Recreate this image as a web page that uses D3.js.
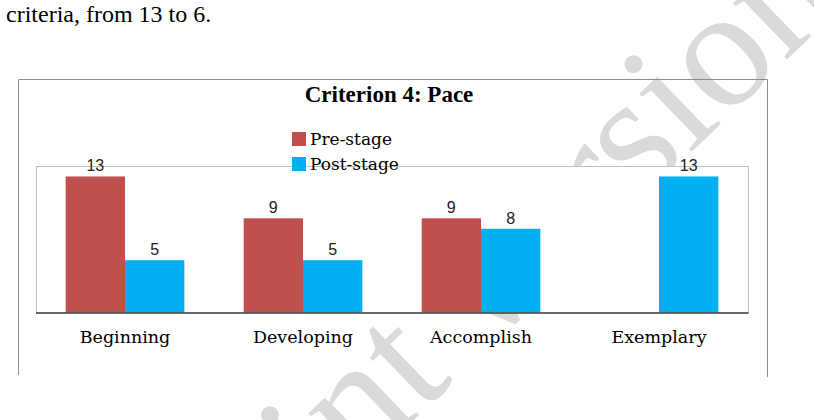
<!DOCTYPE html>
<html>
<head>
<meta charset="utf-8">
<script src="https://cdn.jsdelivr.net/npm/d3@7"></script>
<style>
  body { margin: 0; background: #fff; }
</style>
</head>
<body>
<div id="chart"></div>
<script>
// Chart data
const categories = ["Beginning", "Developing", "Accomplish", "Exemplary"];
const seriesNames = ["Pre-stage", "Post-stage"];
const preStage = [13, 9, 9, null];
const postStage = [5, 5, 8, 13];
const seriesColors = ["#c0504d", "#00b0f0"];

const width = 814, height = 420;
const plot = { left: 36, right: 748, top: 166, bottom: 312.5 };

const svg = d3.select("#chart").append("svg")
    .attr("width", width)
    .attr("height", height);

// Text from the page above the figure
svg.append("text")
    .attr("x", 6)
    .attr("y", 22)
    .attr("font-family", "Liberation Serif, Times New Roman, serif")
    .attr("font-size", 24)
    .attr("fill", "#000")
    .text("criteria, from 13 to 6.");

// Watermark behind the chart
svg.append("text")
    .attr("transform", "translate(426,354) rotate(-44)")
    .attr("text-anchor", "middle")
    .attr("dy", "0.23em")
    .attr("font-family", "Liberation Serif, Times New Roman, serif")
    .attr("font-size", 170)
    .attr("fill", "#d9d9d9")
    .text("Preprint version");

// Outer chart frame (left, top, right)
svg.append("path")
    .attr("d", "M18.5,375 V79.5 H767.5 V377")
    .attr("fill", "none")
    .attr("stroke", "#8c8c8c")
    .attr("stroke-width", 1);

// Scales
const x0 = d3.scaleBand()
    .domain(categories)
    .range([plot.left, plot.right])
    .paddingInner(1 / 3)
    .paddingOuter(1 / 6);

const x1 = d3.scaleBand()
    .domain(seriesNames)
    .range([0, x0.bandwidth()]);

const y = d3.scaleLinear()
    .domain([0, 14])
    .range([plot.bottom, plot.top]);

// Plot area with white fill
svg.append("rect")
    .attr("x", plot.left + 0.5)
    .attr("y", plot.top + 0.5)
    .attr("width", plot.right - plot.left)
    .attr("height", plot.bottom - plot.top)
    .attr("fill", "#fff")
    .attr("stroke", "#c0c0c0");

// Bars
const rows = categories.map((c, i) => ({
    category: c,
    values: [
        { series: seriesNames[0], value: preStage[i], color: seriesColors[0] },
        { series: seriesNames[1], value: postStage[i], color: seriesColors[1] }
    ].filter(d => d.value != null)
}));

const groups = svg.selectAll(".group")
    .data(rows)
    .enter()
    .append("g")
    .attr("class", "group")
    .attr("transform", d => `translate(${x0(d.category)},0)`);

groups.selectAll("rect")
    .data(d => d.values)
    .enter()
    .append("rect")
    .attr("x", d => x1(d.series))
    .attr("y", d => y(d.value))
    .attr("width", x1.bandwidth())
    .attr("height", d => y(0) - y(d.value))
    .attr("fill", d => d.color);

// Value labels
groups.selectAll(".value")
    .data(d => d.values)
    .enter()
    .append("text")
    .attr("class", "value")
    .attr("x", d => x1(d.series) + x1.bandwidth() / 2)
    .attr("y", d => y(d.value) - 5)
    .attr("text-anchor", "middle")
    .attr("font-family", "Liberation Sans, Arial, sans-serif")
    .attr("font-size", 16)
    .attr("fill", "#222")
    .text(d => d.value);

// X axis
const xAxis = svg.append("g")
    .attr("transform", `translate(0,${plot.bottom})`)
    .call(d3.axisBottom(x0).tickSize(0).tickPadding(18));
xAxis.select(".domain")
    .attr("d", `M${plot.left},0.5H${plot.right + 0.5}`)
    .attr("stroke", "#404040")
    .attr("stroke-width", 1.5);
xAxis.selectAll(".tick text")
    .attr("font-family", "DejaVu Serif, serif")
    .attr("font-size", 17.5)
    .attr("fill", "#000");

// Title
svg.append("text")
    .attr("x", 389)
    .attr("y", 102)
    .attr("text-anchor", "middle")
    .attr("font-family", "Liberation Serif, Times New Roman, serif")
    .attr("font-weight", "bold")
    .attr("font-size", 23)
    .attr("fill", "#000")
    .text("Criterion 4: Pace");

// Legend
const legend = svg.append("g")
    .attr("transform", "translate(292,132)");
const legendItems = legend.selectAll("g")
    .data(seriesNames)
    .enter()
    .append("g")
    .attr("transform", (d, i) => `translate(0,${i * 25})`);
legendItems.append("rect")
    .attr("width", 14)
    .attr("height", 14)
    .attr("fill", (d, i) => seriesColors[i]);
legendItems.append("text")
    .attr("x", 18)
    .attr("y", 13)
    .attr("font-family", "DejaVu Serif, serif")
    .attr("font-size", 17)
    .attr("fill", "#000")
    .text(d => d);
</script>
</body>
</html>
